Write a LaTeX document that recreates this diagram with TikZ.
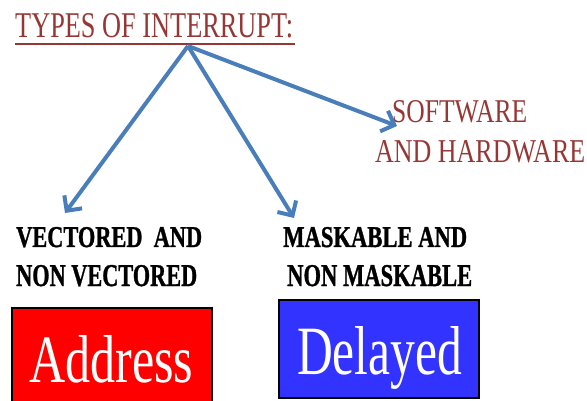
\documentclass[tikz,border=0pt]{standalone}
\usepackage{fontspec}
\setmainfont{Liberation Serif}
\newfontfamily\heavyserif{Liberation Serif Bold}[FakeBold=1.2]
\usetikzlibrary{arrows.meta}
\definecolor{titlered}{RGB}{150,55,53}
\definecolor{arrowblue}{RGB}{74,126,187}
\definecolor{boxblue}{RGB}{51,51,255}
% fit a piece of text to a given width and cap height
\newcommand{\fitto}[3]{\resizebox{#1pt}{#2pt}{#3}}
\begin{document}
\begin{tikzpicture}[x=1pt,y=-1pt,
  txt/.style={inner sep=0pt,anchor=base west},
  heading/.style={txt,text=titlered},
  kind/.style={txt,text=black,font=\heavyserif},
  tag/.style={draw=black,line width=2.5pt},
  link/.style={draw=arrowblue,line width=4pt,-{Straight Barb[length=11pt,width=22pt,line width=4pt]}}]
\useasboundingbox (0,0) rectangle (587,401);

% title with underline
\node[heading] (title) at (15,38) {\fitto{278}{24}{TYPES OF INTERRUPT:}};
\draw[titlered,line width=2pt] (15,44) -- (295,44);
\coordinate (src) at (188,46);

% right branch label
\node[heading] (sw1) at (392,123) {\fitto{135}{22}{SOFTWARE}};
\node[heading] (sw2) at (375,163) {\fitto{210}{22}{AND HARDWARE}};

% lower labels
\node[kind] (vec1) at (16,247) {\fitto{186}{20}{VECTORED\ \ AND}};
\node[kind] (vec2) at (16,286) {\fitto{181}{21}{NON VECTORED}};
\node[kind] (mask1) at (283,247) {\fitto{184}{20}{MASKABLE AND}};
\node[kind] (mask2) at (287,286) {\fitto{185}{21}{NON MASKABLE}};

% coloured boxes
\fill[red] (12,308) rectangle (212,404);
\draw[tag] (12,308) rectangle (212,404);
\node[txt,text=white] (addr) at (29,382) {\fitto{164}{47}{Address}};
\fill[boxblue] (279,300) rectangle (479,398);
\draw[tag] (279,300) rectangle (479,398);
\node[txt,text=white] (del) at (297,374) {\fitto{165}{48}{Delayed}};

% arrows from the title
\coordinate (t1) at (65,213);
\coordinate (t2) at (294,218);
\coordinate (t3) at (397,126);
\draw[link] (src) -- (t1);
\draw[link] (src) -- (t2);
\draw[link] (src) -- (t3);
\end{tikzpicture}
\end{document}
